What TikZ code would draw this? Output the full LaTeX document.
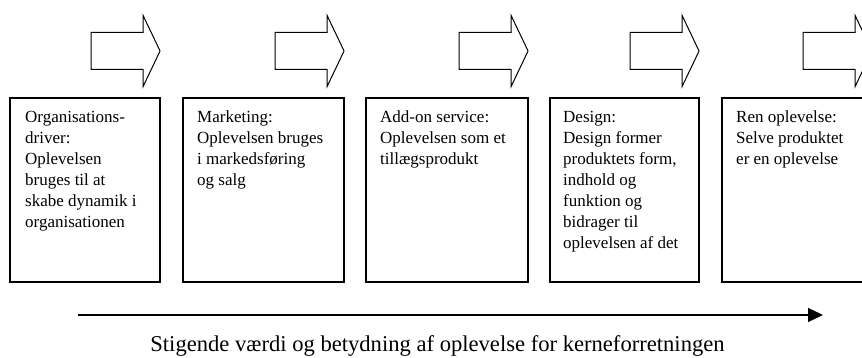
\documentclass[tikz,border=0pt]{standalone}
\usepackage{fontspec}
\setmainfont{Liberation Serif}
\usetikzlibrary{shapes.arrows,arrows.meta}
\begin{document}
\begin{tikzpicture}[x=1pt,y=-1pt,
  stage/.style={draw,line width=1.6pt,inner sep=0pt,minimum height=184pt,anchor=north west},
  stagetext/.style={inner sep=0pt,anchor=north west,align=left,
    font=\fontsize{17}{21}\selectfont},
  blockarrow/.style={draw,line width=1pt,single arrow,inner sep=0pt,
    text height=18pt,text depth=18pt,
    minimum height=69pt,minimum width=70pt,single arrow head extend=17pt,
    single arrow tip angle=129,anchor=tip}]
  \useasboundingbox (0,0) rectangle (862,358);
  \node[stage,minimum width=150pt] (b1) at (9,97) {};
  \node[stage,minimum width=161pt] (b2) at (182,97) {};
  \node[stage,minimum width=162pt] (b3) at (365,97) {};
  \node[stage,minimum width=149pt] (b4) at (549,97) {};
  \node[stage,minimum width=150pt] (b5) at (721,97) {};
  \node[stagetext] (t1) at ([xshift=16pt,yshift=-14pt]b1.north west)
    {Organisations-\\driver:\\Oplevelsen\\bruges til at\\skabe dynamik i\\organisationen};
  \node[stagetext] (t2) at ([xshift=15pt,yshift=-14pt]b2.north west)
    {Marketing:\\Oplevelsen bruges\\i markedsføring\\og salg};
  \node[stagetext] (t3) at ([xshift=15pt,yshift=-14pt]b3.north west)
    {Add-on service:\\Oplevelsen som et\\tillægsprodukt};
  \node[stagetext] (t4) at ([xshift=14pt,yshift=-14pt]b4.north west)
    {Design:\\Design former\\produktets form,\\indhold og\\funktion og\\bidrager til\\oplevelsen af det};
  \node[stagetext] (t5) at ([xshift=15pt,yshift=-14pt]b5.north west)
    {Ren oplevelse:\\Selve produktet\\er en oplevelse};
  \node[blockarrow] (a1) at ([yshift=46pt]b1.north east) {};
  \node[blockarrow] (a2) at ([yshift=46pt]b2.north east) {};
  \node[blockarrow] (a3) at ([yshift=46pt]b3.north east) {};
  \node[blockarrow] (a4) at ([yshift=46pt]b4.north east) {};
  \node[blockarrow] (a5) at ([yshift=46pt]b5.north east) {};
  \coordinate (low) at (78,315);
  \coordinate (high) at (823,315);
  \draw[line width=1.3pt,-{Triangle[length=15pt,width=14pt]}] (low) -- (high);
  \node[inner sep=0pt,anchor=base,font=\fontsize{22.6}{26}\selectfont] (scale) at (437.5,351)
    {Stigende værdi og betydning af oplevelse for kerneforretningen};
\end{tikzpicture}
\end{document}
